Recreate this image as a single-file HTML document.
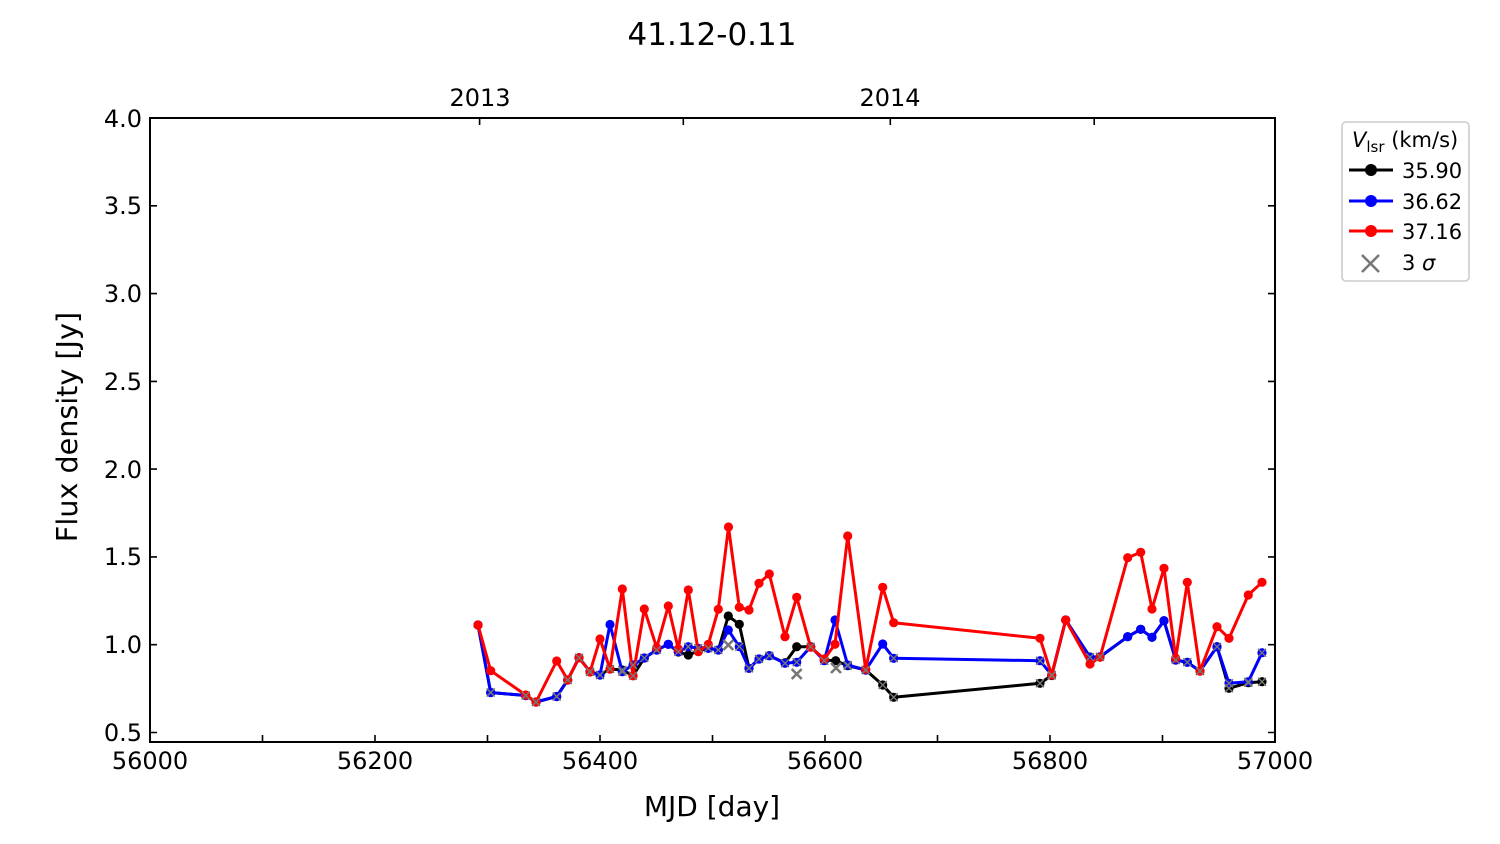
<!DOCTYPE html>
<html><head><meta charset="utf-8"><style>
html,body{margin:0;padding:0;background:#fff;}
svg{display:block;}
text{font-family:"DejaVu Sans","Liberation Sans",sans-serif;fill:#000;}
</style></head><body>
<svg id="s" width="1500" height="844" viewBox="0 0 1500 844" xmlns="http://www.w3.org/2000/svg">
<rect width="1500" height="844" fill="#fff"/>
<text x="712" y="45" font-size="31" text-anchor="middle">41.12-0.11</text>
<text x="480" y="106" font-size="24" text-anchor="middle">2013</text>
<text x="890" y="106" font-size="24" text-anchor="middle">2014</text>

<!-- ticks -->
<g stroke="#000" stroke-width="1.6">
<path d="M150 742v-7M262.5 742v-7M375 742v-7M487.5 742v-7M600 742v-7M712.5 742v-7M825 742v-7M937.5 742v-7M1050 742v-7M1162.5 742v-7M1275 742v-7"/>
<path d="M150 732.5h7M150 644.7h7M150 556.9h7M150 469.1h7M150 381.4h7M150 293.6h7M150 205.8h7M150 118h7"/>
<path d="M1275 732.5h-7M1275 644.7h-7M1275 556.9h-7M1275 469.1h-7M1275 381.4h-7M1275 293.6h-7M1275 205.8h-7M1275 118h-7"/>
<path d="M479.6 118v7M683.3 118v7M890.3 118v7M1094.2 118v7"/>
</g>
<g font-size="24" text-anchor="end">
<text x="142" y="741">0.5</text>
<text x="142" y="653">1.0</text>
<text x="142" y="565">1.5</text>
<text x="142" y="478">2.0</text>
<text x="142" y="390">2.5</text>
<text x="142" y="302">3.0</text>
<text x="142" y="214">3.5</text>
<text x="142" y="127">4.0</text>
</g>
<g font-size="24" text-anchor="middle">
<text x="150" y="769">56000</text>
<text x="375" y="769">56200</text>
<text x="600" y="769">56400</text>
<text x="825" y="769">56600</text>
<text x="1050" y="769">56800</text>
<text x="1275" y="769">57000</text>
</g>
<text x="712" y="816" font-size="28" text-anchor="middle">MJD [day]</text>
<text transform="translate(77,427) rotate(-90)" font-size="28.6" text-anchor="middle">Flux density [Jy]</text>

<g id="series"></g>

<!-- frame -->
<rect x="150" y="118" width="1125" height="624" fill="none" stroke="#000" stroke-width="2"/>

<!-- legend -->
<rect x="1342" y="122" width="127" height="159" rx="4" fill="#fff" stroke="#cccccc" stroke-width="1.6"/>
<text x="1352" y="147" font-size="21"><tspan font-style="italic">V</tspan><tspan font-size="15" dy="5">lsr</tspan><tspan dy="-5"> (km/s)</tspan></text>
<line x1="1349" y1="170" x2="1393" y2="170" stroke="#000" stroke-width="3"/>
<circle cx="1371" cy="170" r="6" fill="#000"/>
<text x="1402" y="178" font-size="21">35.90</text>
<line x1="1349" y1="201" x2="1393" y2="201" stroke="#0000ff" stroke-width="3"/>
<circle cx="1371" cy="201" r="6" fill="#0000ff"/>
<text x="1402" y="209" font-size="21">36.62</text>
<line x1="1349" y1="231" x2="1393" y2="231" stroke="#ff0000" stroke-width="3"/>
<circle cx="1371" cy="231" r="6" fill="#ff0000"/>
<text x="1402" y="239" font-size="21">37.16</text>
<path d="M1362 255l17 17M1379 255l-17 17" stroke="#777" stroke-width="2.6"/>
<text x="1402" y="270" font-size="21">3 <tspan font-style="italic">σ</tspan></text>
</svg>
<script>
(function(){
var ns="http://www.w3.org/2000/svg";
var g=document.getElementById("series");
var data=[
["#000","478,625 490.7,692.5 525.7,695.5 536,702 556.7,696.5 567.7,680 579,657.7 590,671.7 600,675 610,669 622.3,670 633,675.7 644.3,658 656.7,650 668.3,644.3 678.3,652 688.3,655 698.3,651 708.3,648.3 718.3,650 728.3,616 739.3,624.3 749,668.3 759,659 769.3,655.7 785,662.7 796.7,646.7 810.7,646.7 824.3,660 835.7,660.7 847.7,665.7 865.7,670 882.7,685 893.7,697.3 1040,683.3 1051.7,675.5 1065.7,620 1090,657 1100,657 1127.7,636.7 1140.7,629.3 1152,637.3 1164,620.7 1175.7,660 1187.3,662.3 1200,671 1217,646.7 1229,688.3 1248.3,682.7 1262,681.7"],
["#0000ff","478,625 490.7,692.5 525.7,695.5 536,702 556.7,696.5 567.7,680 579,657.7 590,671.7 600,675 610,624.5 622.3,671.7 633,665 644.3,658 656.7,650 668.3,644.3 678.3,651.7 688.3,646.7 698.3,648.3 708.3,648.3 718.3,650 728.3,630 739.3,646.7 749,668.3 759,659 769.3,655.7 785,663.3 796.7,662.3 810.7,646.7 824.3,660.7 835,620 847.7,665 865.7,670 882.7,644 893.7,658.3 1040,660.7 1051.7,675 1065.7,620 1090,657.3 1100,656.7 1127.7,636.7 1140.7,629.3 1152,637.3 1164,620.7 1175.7,660 1187.3,662.3 1200,671 1217,646.7 1229,683.3 1248.3,681.7 1262,652.7"],
["#ff0000","478,625 490.7,670.7 525.7,695 536,702 556.7,661 567.7,680 579,657.7 590,672 600,639 610,669 622.3,589 633,675.7 644.3,609 656.7,647.7 668.3,606 678.3,649 688.3,590 698.3,651.7 708.3,644.3 718.3,609.3 728.5,527 739.3,607.3 749,610 759,583.3 769.3,574 785,636.7 796.7,597.3 810.7,647.3 824.3,659 835,644.3 847.7,536 865.7,669.3 882.7,587.3 893.7,622.7 1040,638.3 1051.7,675 1065.7,620 1090,664 1100,657.3 1127.7,557.7 1140.7,552.3 1152,609 1164,568.3 1175.7,658.3 1187.3,582.3 1200,671 1217,626.7 1229,638.3 1248.3,595 1262,582.3"]
];
function pts(s){return s.trim().split(/\s+/).map(function(p){var a=p.split(",");return [+a[0],+a[1]];});}
var sets=[];
for(var i=0;i<3;i++){
  var pl=document.createElementNS(ns,"polyline");
  pl.setAttribute("points",data[i][1]);
  pl.setAttribute("fill","none");pl.setAttribute("stroke",data[i][0]);
  pl.setAttribute("stroke-width","3");pl.setAttribute("stroke-linejoin","round");
  g.appendChild(pl);
  var P=pts(data[i][1]);sets.push(P);
  for(var j=0;j<P.length;j++){
    var c=document.createElementNS(ns,"circle");
    c.setAttribute("cx",P[j][0]);c.setAttribute("cy",P[j][1]);c.setAttribute("r","4.6");
    c.setAttribute("fill",data[i][0]);
    g.appendChild(c);
  }
}
function smallCross(x,y){
  var p=document.createElementNS(ns,"path");
  p.setAttribute("d","M"+(x-4)+" "+(y-4)+"l8 8M"+(x+4)+" "+(y-4)+"l-8 8");
  p.setAttribute("stroke","#777");p.setAttribute("stroke-width","1.4");
  g.appendChild(p);
}
var B=sets[1];
for(var j=0;j<B.length;j++){ if(B[j][1]>645) smallCross(B[j][0],B[j][1]); }
var K=sets[0];
for(var j=0;j<K.length;j++){ if(K[j][1]>665) smallCross(K[j][0],K[j][1]); }
function bigX(x,y){
  var p=document.createElementNS(ns,"path");
  p.setAttribute("d","M"+(x-5)+" "+(y-5)+"l10 10M"+(x+5)+" "+(y-5)+"l-10 10");
  p.setAttribute("stroke","#777");p.setAttribute("stroke-width","2.6");
  g.appendChild(p);
}
bigX(728.3,645);bigX(796.7,674);bigX(836,668);
})();
</script>
</body></html>
